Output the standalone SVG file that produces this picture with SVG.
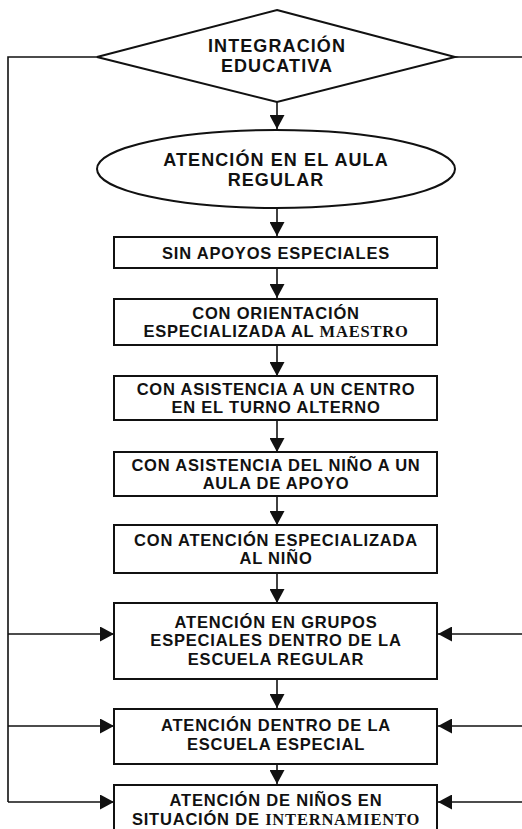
<svg xmlns="http://www.w3.org/2000/svg" width="522" height="829" viewBox="0 0 522 829">
<style>
.shape{fill:#fff;stroke:#111;stroke-width:2}
.t{font-family:"Liberation Sans",Arial,sans-serif;font-weight:bold;font-size:16.5px;letter-spacing:0.8px;fill:#111;text-anchor:middle}
.big{font-size:18px;letter-spacing:1.1px}
.sf{font-family:"Liberation Serif","Times New Roman",serif}
.c{fill:none;stroke:#111;stroke-width:1.6}
</style>
<defs>
<marker id="ah" markerUnits="userSpaceOnUse" markerWidth="15" markerHeight="15" refX="14" refY="7.5" orient="auto">
<path d="M0,0 L14,7.5 L0,15 z" fill="#111"/>
</marker>
</defs>
<rect width="522" height="829" fill="#fff"/>
<g id="connectors">
<path class="c" d="M277,102 V129" marker-end="url(#ah)"/>
<path class="c" d="M277,208 V236" marker-end="url(#ah)"/>
<path class="c" d="M277,268 V298" marker-end="url(#ah)"/>
<path class="c" d="M277,345 V376" marker-end="url(#ah)"/>
<path class="c" d="M277,420 V452" marker-end="url(#ah)"/>
<path class="c" d="M277,496 V525" marker-end="url(#ah)"/>
<path class="c" d="M277,573 V603" marker-end="url(#ah)"/>
<path class="c" d="M277,679 V708" marker-end="url(#ah)"/>
<path class="c" d="M277,764 V784" marker-end="url(#ah)"/>
<path class="c" d="M97,57 H8 V802"/>
<path class="c" d="M8,634 H114" marker-end="url(#ah)"/>
<path class="c" d="M8,726 H114" marker-end="url(#ah)"/>
<path class="c" d="M8,802 H114" marker-end="url(#ah)"/>
<path class="c" d="M455,57 H522"/>
<path class="c" d="M522,634 H438" marker-end="url(#ah)"/>
<path class="c" d="M522,726 H438" marker-end="url(#ah)"/>
<path class="c" d="M522,802 H438" marker-end="url(#ah)"/>
</g>
<g id="integracion">
<polygon class="shape" points="277,10 455,57 277,102 97,57"/>
<text class="t big" x="277" y="51.5">INTEGRACIÓN</text>
<text class="t big" x="277" y="72">EDUCATIVA</text>
</g>
<g id="aula-regular">
<ellipse class="shape" cx="276" cy="169" rx="179" ry="39"/>
<text class="t big" x="276" y="165.5">ATENCIÓN EN EL AULA</text>
<text class="t big" x="276" y="186">REGULAR</text>
</g>
<g id="sin-apoyos">
<rect class="shape" x="114" y="237" width="323" height="31"/>
<text class="t" x="276" y="259">SIN APOYOS ESPECIALES</text>
</g>
<g id="orientacion">
<rect class="shape" x="114" y="299" width="323" height="46"/>
<text class="t" x="276" y="318.7">CON ORIENTACIÓN</text>
<text class="t" x="276" y="337.2">ESPECIALIZADA AL <tspan class="sf">MAESTRO</tspan></text>
</g>
<g id="centro-turno">
<rect class="shape" x="114" y="376" width="323" height="44"/>
<text class="t" x="276" y="394.7">CON ASISTENCIA A UN CENTRO</text>
<text class="t" x="276" y="413.2">EN EL TURNO ALTERNO</text>
</g>
<g id="aula-apoyo">
<rect class="shape" x="114" y="452" width="323" height="44"/>
<text class="t" x="276" y="470.7">CON ASISTENCIA DEL NIÑO A UN</text>
<text class="t" x="276" y="489.2">AULA DE APOYO</text>
</g>
<g id="atencion-nino">
<rect class="shape" x="114" y="525" width="323" height="48"/>
<text class="t" x="276" y="545.7">CON ATENCIÓN ESPECIALIZADA</text>
<text class="t" x="276" y="564.2">AL NIÑO</text>
</g>
<g id="grupos-especiales">
<rect class="shape" x="114" y="603" width="323" height="76"/>
<text class="t" x="276" y="627.9">ATENCIÓN EN GRUPOS</text>
<text class="t" x="276" y="646.4">ESPECIALES DENTRO DE LA</text>
<text class="t" x="276" y="664.9">ESCUELA REGULAR</text>
</g>
<g id="escuela-especial">
<rect class="shape" x="114" y="709" width="323" height="55"/>
<text class="t" x="276" y="730.9">ATENCIÓN DENTRO DE LA</text>
<text class="t" x="276" y="749.9">ESCUELA ESPECIAL</text>
</g>
<g id="internamiento">
<rect class="shape" x="114" y="785" width="323" height="60"/>
<text class="t" x="276" y="806">ATENCIÓN DE NIÑOS EN</text>
<text class="t" x="276" y="824.5">SITUACIÓN DE <tspan class="sf">INTERNAMIENTO</tspan></text>
</g>
</svg>
